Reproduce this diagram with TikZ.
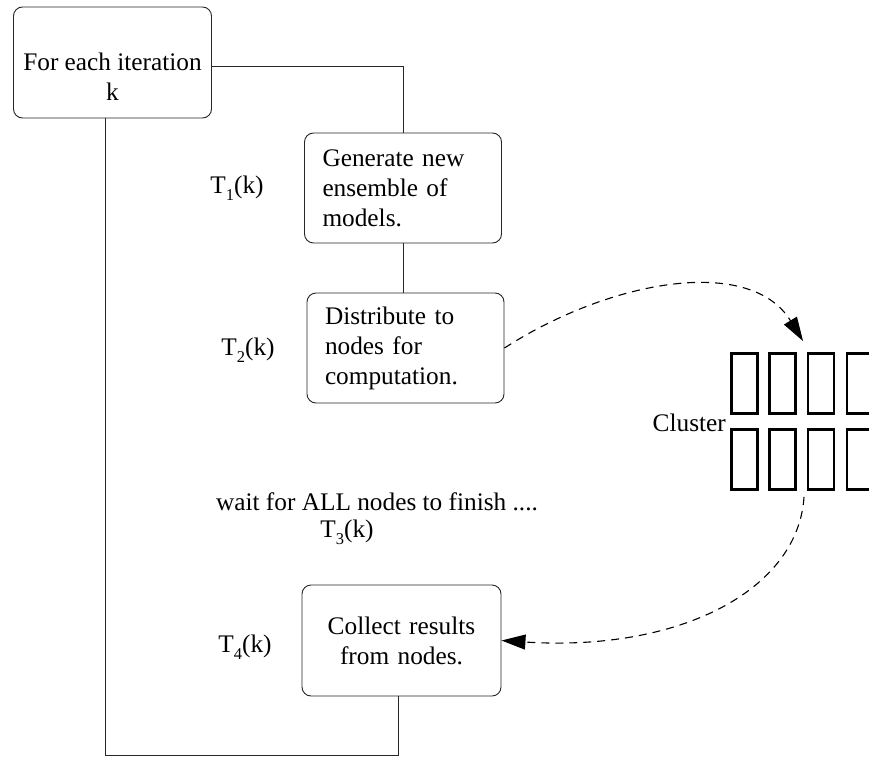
\documentclass[tikz,border=0pt]{standalone}
\usepackage{fontspec}
\setmainfont{Liberation Serif}
\usetikzlibrary{arrows.meta}
\newcommand{\Tk}[1]{T\raisebox{-0.28em}{\fontsize{16.5}{16.5}\selectfont #1}(k)}
\begin{document}
\begin{tikzpicture}[x=1pt,y=-1pt,
  every node/.style={font=\fontsize{25.3}{30}\selectfont},
  box/.style={draw=black!85, line width=0.9pt, rounded corners=9pt, inner xsep=18pt, inner ysep=0pt},
  conn/.style={draw=black!85, line width=0.9pt},
  cl/.style={draw=black, line width=2.3pt, minimum width=26pt, minimum height=60pt, inner sep=0pt},
  dasharrow/.style={line width=1.1pt, dash pattern=on 8pt off 6pt, -{Triangle[length=24pt,width=15pt]}},
  lbl/.style={inner sep=0pt}]
\useasboundingbox (0,0) rectangle (869,757);
% boxes
\node[box, minimum width=198pt, minimum height=111pt] (b1) at (112.5,62.5) {};
\node[lbl, align=center] (t1) at (112.5,77) {For each iteration\\k};
\node[box, minimum width=197pt, minimum height=110pt, text width=161pt, align=left] (b2) at (403,188) {Generate new\\ensemble of\\models.};
\node[box, minimum width=197pt, minimum height=110pt, text width=161pt, align=left] (b3) at (405.5,348) {Distribute to\\nodes for\\computation.};
\node[box, minimum width=199pt, minimum height=111pt, text width=163pt, align=center] (b4) at (401.5,640.5) {Collect results\\from nodes.};
% labels
\node[lbl] (T1) at (237,188) {\Tk{1}};
\node[lbl] (T2) at (248,350) {\Tk{2}};
\node[lbl] (wait) at (377,502) {wait for ALL nodes to finish ....};
\node[lbl] (T3) at (347,532) {\Tk{3}};
\node[lbl] (T4) at (245,647) {\Tk{4}};
\node[lbl, anchor=east] (clus) at (726,423) {Cluster};
% cluster
\foreach \i/\x in {1/744.5,2/782.5,3/821,4/860}{
  \node[cl] (ct\i) at (\x,383.5) {};
  \node[cl] (cb\i) at (\x,459.5) {};
}
\coordinate (cltop) at (803,341);
\coordinate (clbot) at (804,497);
\coordinate (corner) at (105,755);
% connectors
\draw[conn] (b1.east |- 0,66) -| (b2.north);
\draw[conn] (b2.south) -- (b2.south |- b3.north);
\draw[conn] (b4.south -| 398,0) |- (corner) -- (corner |- b1.south);
\draw[dasharrow] (b3.east) .. controls (610,280) and (750,255) .. (cltop);
\draw[dasharrow] (clbot) .. controls (798,590) and (680,652) .. (b4.east);
\end{tikzpicture}
\end{document}
